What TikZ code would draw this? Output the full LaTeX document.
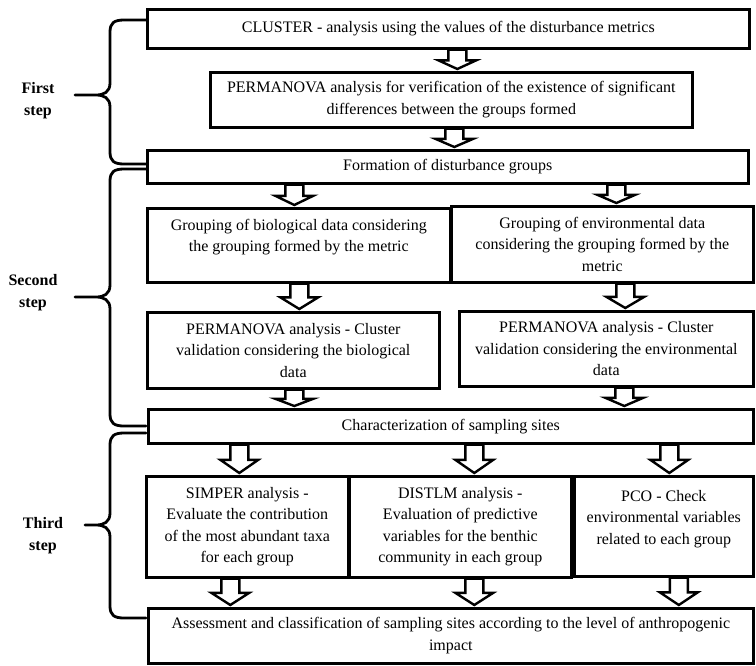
\documentclass[tikz,border=0pt]{standalone}
\usepackage{fontspec}
\setmainfont{Liberation Serif}
\usetikzlibrary{calc}
\newcommand\stepbrace[4]{%
  \draw[brace] (146,#1) -- (124,#1) .. controls (114,#1) and (110,#1+3) .. (110,#1+12)
    -- (110,#2-12) .. controls (110,#2-3) and (104,#2) .. (96,#2) -- (#4,#2)
    -- (96,#2) .. controls (104,#2) and (110,#2+3) .. (110,#2+12)
    -- (110,#3-12) .. controls (110,#3-3) and (114,#3) .. (124,#3) -- (146,#3);}
\begin{document}
\begin{tikzpicture}[x=1pt,y=-1pt,
  box/.style={draw=black, line width=2.6pt, fill=white, inner sep=0pt, anchor=north west},
  txt/.style={align=center, font=\fontsize{16}{21.5}\selectfont, inner sep=0pt},
  lbl/.style={align=center, font=\bfseries\fontsize{16}{22}\selectfont, inner sep=0pt},
  brace/.style={line width=2.8pt, line join=round, line cap=round},
  barrow/.style={draw=black, line width=2.4pt, fill=white, line join=miter,
    to path={let \p1=(\tikztostart), \p2=(\tikztotarget), \n1={0.5*(\y1-\y2)} in
      (\x1-9pt,\y1) -- (\x1-9pt,{\y2+\n1}) -- (\x1-19pt,{\y2+\n1}) -- (\x1,\y2+2pt)
      -- (\x1+19pt,{\y2+\n1}) -- (\x1+9pt,{\y2+\n1}) -- (\x1+9pt,\y1) -- cycle}}]
\useasboundingbox (0,0) rectangle (756,665);

% boxes
\node[box, minimum width=602pt, minimum height=39pt] (b1) at (146,8) {};
\node[box, minimum width=482pt, minimum height=55pt] (b2) at (209,71) {};
\node[box, minimum width=601pt, minimum height=33pt] (b3) at (146,149) {};
\node[box, minimum width=303pt, minimum height=74pt] (b4) at (146,207) {};
\node[box, minimum width=302pt, minimum height=76pt] (b5) at (450,205) {};
\node[box, minimum width=292pt, minimum height=76pt] (b6) at (146,311) {};
\node[box, minimum width=294pt, minimum height=75pt] (b7) at (458,310) {};
\node[box, minimum width=605pt, minimum height=34pt] (b8) at (147,408) {};
\node[box, minimum width=202pt, minimum height=101pt] (b9) at (145,475) {};
\node[box, minimum width=222pt, minimum height=101pt] (b10) at (348,475) {};
\node[box, minimum width=179pt, minimum height=100pt] (b11) at (573,475) {};
\node[box, minimum width=605pt, minimum height=55pt] (b12) at (147,607) {};

% texts
\node[txt] (t1) at (b1.center) {CLUSTER - analysis using the values of the disturbance metrics};
\node[txt] (t2) at (b2.center) {PERMANOVA analysis for verification of the existence of significant\\differences between the groups formed};
\node[txt] (t3) at (b3.center) {Formation of disturbance groups};
\node[txt] (t4) at ([yshift=8pt]b4.center) {Grouping of biological data considering\\the grouping formed by the metric};
\node[txt] (t5) at (b5.center) {Grouping of environmental data\\considering the grouping formed by the\\metric};
\node[txt] (t6) at (b6.center) {PERMANOVA analysis - Cluster\\validation considering the biological\\data};
\node[txt] (t7) at (b7.center) {PERMANOVA analysis - Cluster\\validation considering the environmental\\data};
\node[txt] (t8) at (b8.center) {Characterization of sampling sites};
\node[txt] (t9) at (b9.center) {SIMPER analysis -\\Evaluate the contribution\\of the most abundant taxa\\for each group};
\node[txt] (t10) at (b10.center) {DISTLM analysis -\\Evaluation of predictive\\variables for the benthic\\community in each group};
\node[txt] (t11) at ([yshift=7.5pt]b11.center) {PCO - Check\\environmental variables\\related to each group};
\node[txt] (t12) at (b12.center) {Assessment and classification of sampling sites according to the level of anthropogenic\\impact};

% block arrows
\draw[barrow] ([xshift=9pt]b1.south) to (b2.north);
\draw[barrow] ([xshift=3pt]b2.south) to (b3.north);
\draw[barrow] ([xshift=-153.5pt]b3.south) to (b4.north);
\draw[barrow] ([xshift=168.5pt]b3.south) to (b5.north);
\draw[barrow] ([xshift=0.5pt]b4.south) to (b6.north);
\draw[barrow] ([xshift=23pt]b5.south) to (b7.north);
\draw[barrow] ([xshift=1pt]b6.south) to (b8.north);
\draw[barrow] ([xshift=18pt]b7.south) to (b8.north);
\draw[barrow] ([xshift=-211.5pt]b8.south) to (b9.north);
\draw[barrow] ([xshift=23.5pt]b8.south) to (b10.north);
\draw[barrow] ([xshift=218.5pt]b8.south) to (b11.north);
\draw[barrow] ([xshift=-17pt]b9.south) to (b12.north);
\draw[barrow] ([xshift=14pt]b10.south) to (b12.north);
\draw[barrow] ([xshift=15pt]b11.south) to (b12.north);

% braces and labels
\stepbrace{20}{95}{164}{75}
\stepbrace{169}{297}{426}{75}
\stepbrace{433}{525}{618}{85}
\node[lbl] (l1) at (38,101) {First\\step};
\node[lbl] (l2) at (33,293) {Second\\step};
\node[lbl] (l3) at (43,536) {Third\\step};
\end{tikzpicture}
\end{document}
